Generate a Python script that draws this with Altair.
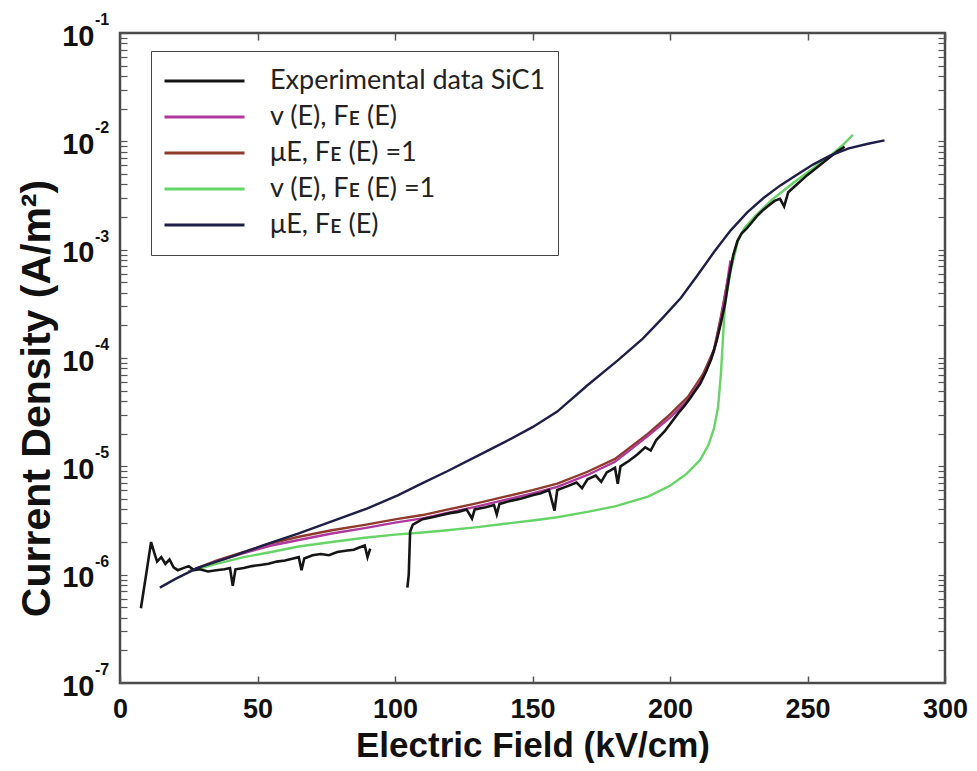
import altair as alt
import pandas as pd

# ---------------- data ----------------
series_names = [
    "Experimental data SiC1",
    "v (E), Fᴇ (E)",
    "μE, Fᴇ (E) =1",
    "v (E), Fᴇ (E) =1",
    "μE, Fᴇ (E)",
]
series_colors = ["#151515", "#b0389c", "#8e3b2c", "#66d466", "#1e1e46"]

# experimental data, first stretch
exp1_E = [7.6, 9.5, 11.3, 12.5, 13.5, 15, 16.5, 18, 19.5, 21, 23, 25, 27, 29, 32, 35, 38, 40, 41, 42,
          45, 48, 51, 54, 57, 60, 63, 65, 66, 67, 70, 73, 76, 79, 82, 85, 87, 89, 90, 91]
exp1_J = [4.9e-7, 1.0e-6, 2.0e-6, 1.58e-6, 1.32e-6, 1.45e-6, 1.26e-6, 1.38e-6, 1.17e-6, 1.10e-6,
          1.15e-6, 1.20e-6, 1.10e-6, 1.12e-6, 1.07e-6, 1.10e-6, 1.12e-6, 1.15e-6, 7.9e-7, 1.12e-6,
          1.15e-6, 1.20e-6, 1.23e-6, 1.26e-6, 1.32e-6, 1.35e-6, 1.41e-6, 1.45e-6, 1.10e-6, 1.41e-6,
          1.51e-6, 1.55e-6, 1.51e-6, 1.62e-6, 1.66e-6, 1.70e-6, 1.78e-6, 1.86e-6, 1.45e-6, 1.74e-6]
# experimental data, second stretch
exp2_E = [104.5, 105, 105.5, 106.5, 110, 114, 117, 120, 123, 126, 128, 129, 133, 136, 137, 138, 142,
          146, 150, 153, 156, 158, 159, 163, 166, 168, 170, 173, 175, 177, 180, 181, 182, 185, 188,
          191, 193, 195, 198, 200, 203, 205, 207, 209, 211, 213, 215, 217, 218.5, 220, 221.5, 223,
          224.5, 226, 228, 230, 232, 234, 236, 238, 240, 241.5, 243, 246, 250, 254, 258, 261, 263.5]
exp2_J = [7.6e-7, 1.0e-6, 2.5e-6, 2.9e-6, 3.25e-6, 3.4e-6, 3.55e-6, 3.7e-6, 3.8e-6, 4.0e-6,
          3.3e-6, 4.0e-6, 4.2e-6, 4.4e-6, 3.6e-6, 4.5e-6, 4.8e-6, 5.05e-6, 5.4e-6, 5.65e-6,
          6.05e-6, 3.9e-6, 6.05e-6, 6.6e-6, 7.1e-6, 6.3e-6, 7.6e-6, 8.2e-6, 7.2e-6, 8.8e-6,
          9.7e-6, 6.9e-6, 1.0e-5, 1.12e-5, 1.28e-5, 1.5e-5, 1.4e-5, 1.75e-5, 2.1e-5, 2.45e-5,
          3.1e-5, 3.55e-5, 4.15e-5, 4.9e-5, 5.8e-5, 7.4e-5, 9.8e-5, 1.45e-4, 2.1e-4, 3.16e-4,
          5.62e-4, 8.91e-4, 1.20e-3, 1.41e-3, 1.58e-3, 1.82e-3, 2.09e-3, 2.34e-3, 2.57e-3, 2.82e-3,
          2.95e-3, 2.51e-3, 3.39e-3, 3.98e-3, 4.90e-3, 5.89e-3, 7.08e-3, 8.13e-3, 8.91e-3]

# v(E), F_E(E)
vfe_E = [25, 35, 45, 55, 65, 77, 89, 100, 110, 119, 130, 140, 150, 159, 170, 180, 192, 200, 206.5,
         212, 216, 218.5, 220.5, 222]
vfe_J = [1.07e-6, 1.32e-6, 1.585e-6, 1.86e-6, 2.09e-6, 2.40e-6, 2.69e-6, 3.02e-6, 3.31e-6, 3.72e-6,
         4.27e-6, 4.90e-6, 5.62e-6, 6.46e-6, 8.32e-6, 1.10e-5, 1.91e-5, 2.82e-5, 4.07e-5, 6.61e-5,
         1.15e-4, 2.24e-4, 4.47e-4, 7.94e-4]

# muE, F_E(E)=1
mufe1_E = [25, 35, 45, 55, 65, 77, 89, 100, 110, 119, 130, 140, 150, 159, 170, 180, 192, 200, 206.5,
           212, 216, 218.5, 220.5, 222]
mufe1_J = [1.07e-6, 1.35e-6, 1.62e-6, 1.95e-6, 2.24e-6, 2.57e-6, 2.88e-6, 3.24e-6, 3.55e-6, 3.98e-6,
           4.57e-6, 5.25e-6, 6.03e-6, 6.92e-6, 8.91e-6, 1.17e-5, 2.0e-5, 3.02e-5, 4.37e-5, 7.08e-5,
           1.20e-4, 2.40e-4, 4.47e-4, 7.08e-4]

# v(E), F_E(E)=1
vfe1_E = [25, 35, 45, 55, 65, 77, 89, 100, 110, 119, 130, 140, 150, 159, 170, 180, 192, 200, 206,
          211, 214, 216, 217.5, 218.5, 219.3, 220, 222, 224.7, 227, 231, 237, 245, 252, 258, 263, 266.5]
vfe1_J = [1.07e-6, 1.26e-6, 1.45e-6, 1.62e-6, 1.82e-6, 2.0e-6, 2.19e-6, 2.34e-6, 2.45e-6, 2.57e-6,
          2.75e-6, 2.95e-6, 3.16e-6, 3.39e-6, 3.80e-6, 4.27e-6, 5.25e-6, 6.61e-6, 8.51e-6, 1.15e-5,
          1.58e-5, 2.24e-5, 3.55e-5, 7.08e-5, 1.58e-4, 3.16e-4, 6.31e-4, 1.20e-3, 1.58e-3, 2.04e-3,
          2.88e-3, 4.17e-3, 5.62e-3, 7.24e-3, 9.33e-3, 1.15e-2]

# muE, F_E(E)
mufe_E = [14.5, 20, 28, 40, 52, 65, 77, 90, 101, 110, 119, 130, 140, 150, 159, 170, 181, 190, 197,
          204, 210, 216, 222, 228, 234, 240, 246, 252, 258, 265, 272, 278]
mufe_J = [7.6e-7, 9.1e-7, 1.15e-6, 1.45e-6, 1.86e-6, 2.4e-6, 3.1e-6, 4.1e-6, 5.4e-6, 7.0e-6,
          9.0e-6, 1.25e-5, 1.68e-5, 2.30e-5, 3.2e-5, 5.6e-5, 9.5e-5, 1.5e-4, 2.3e-4, 3.6e-4,
          5.8e-4, 9.5e-4, 1.5e-3, 2.2e-3, 3.0e-3, 3.9e-3, 4.9e-3, 6.1e-3, 7.35e-3, 8.6e-3,
          9.5e-3, 1.02e-2]

x_tick_values = [0, 50, 100, 150, 200, 250, 300]
decade_values = [1e-1, 1e-2, 1e-3, 1e-4, 1e-5, 1e-6, 1e-7]
exponent_labels = ["-1", "-2", "-3", "-4", "-5", "-6", "-7"]
mantissas = [1, 2, 3, 4, 5, 6, 7, 8, 9]
y_tick_values = [m * d for d in decade_values[1:] for m in mantissas] + [1e-1]

# ---------------- tables ----------------
rows = []
def add(name, seg, xs, ys):
    for i, (x, y) in enumerate(zip(xs, ys)):
        rows.append({"E": x, "J": y, "series": name, "seg": seg, "idx": i})

add(series_names[0], "a", exp1_E, exp1_J)
add(series_names[0], "b", exp2_E, exp2_J)
add(series_names[1], "a", vfe_E, vfe_J)
add(series_names[2], "a", mufe1_E, mufe1_J)
add(series_names[3], "a", vfe1_E, vfe1_J)
add(series_names[4], "a", mufe_E, mufe_J)
df = pd.DataFrame(rows)

exp_df = pd.DataFrame({"J": decade_values, "lab": exponent_labels})

# ---------------- chart ----------------
FONT = "Liberation Sans"
x_scale = alt.Scale(domain=[0, 300], nice=False, zero=False)
y_scale = alt.Scale(type="log", domain=[1e-7, 1e-1], nice=False)
color_scale = alt.Scale(domain=series_names, range=series_colors)

legend = alt.Legend(
    orient="none", legendX=31, legendY=18, title=None,
    symbolType="stroke", symbolSize=6400, symbolStrokeWidth=3,
    clipHeight=36, rowPadding=0, padding=12,
    labelFont="Lato", labelFontSize=27, labelColor="#222", labelOffset=24, labelLimit=500,
    strokeColor="#444", fillColor="white",
)

x_axis = alt.Axis(
    orient="bottom", values=x_tick_values, offset=-7, tickSize=7, domain=False, grid=False,
    tickColor="#555", tickWidth=1.5,
    labelFont=FONT, labelFontSize=27, labelFontWeight="bold", labelColor="#111", labelPadding=13,
    labelFlush=False,
    title="Electric Field (kV/cm)", titleFont=FONT, titleFontSize=35, titleFontWeight="bold",
    titleColor="#111", titleX=412.5, titleY=69, titleBaseline="middle", titleAnchor="middle",
)
y_axis = alt.Axis(
    orient="left", values=y_tick_values, offset=-7, tickSize=7, domain=False, grid=False,
    tickColor="#555", tickWidth=1.2,
    labelExpr="abs(log(datum.value)/LN10 - round(log(datum.value)/LN10)) < 1e-6 ? '10' : ''",
    labelFont=FONT, labelFontSize=29, labelFontWeight="bold", labelColor="#111", labelPadding=26,
    labelOffset=3, labelFlush=False,
    title="Current Density (A/m²)", titleFont=FONT, titleFontSize=41, titleFontWeight="bold",
    titleColor="#111", titleX=-90, titleY=365, titleAngle=270, titleBaseline="middle",
    titleAlign="center",
)

order = [2, 1, 3, 0, 4]  # drawing order
layers = []
for k in order:
    name = series_names[k]
    sw = 2.6 if k == 0 else 2.4
    layers.append(
        alt.Chart(df)
        .transform_filter(alt.datum.series == name)
        .mark_line(strokeWidth=sw)
        .encode(
            x=alt.X("E:Q", scale=x_scale, axis=x_axis),
            y=alt.Y("J:Q", scale=y_scale, axis=y_axis),
            color=alt.Color("series:N", scale=color_scale, legend=legend),
            detail="seg:N",
            order="idx:Q",
        )
    )

lines = alt.layer(*layers)

expo = alt.Chart(exp_df).mark_text(
    align="left", baseline="middle", dx=-25, dy=-13, fontSize=16, fontWeight="bold",
    font=FONT, color="#111",
).encode(
    x=alt.XDatum(0, scale=x_scale, axis=None),
    y=alt.Y("J:Q", scale=y_scale, axis=None),
    text="lab:N",
)

mirror = alt.Chart(df).mark_line(opacity=0).encode(
    x=alt.X("E:Q", scale=x_scale, axis=alt.Axis(
        orient="top", values=x_tick_values, offset=-7, tickSize=7, domain=False, labels=False,
        grid=False, title=None, tickColor="#555", tickWidth=1.5)),
    y=alt.Y("J:Q", scale=y_scale, axis=alt.Axis(
        orient="right", values=y_tick_values, offset=-7, tickSize=7, domain=False, labels=False,
        grid=False, title=None, tickColor="#555", tickWidth=1.2)),
    detail="series:N",
)

chart = (
    alt.layer(lines, expo, mirror)
    .resolve_axis(x="independent", y="independent")
    .properties(
        width=825, height=650,
        autosize=alt.AutoSizeParams(type="none"),
        padding={"left": 112, "top": 25, "right": 24, "bottom": 80},
        background="white",
    )
    .configure_view(stroke="#4a4a4a", strokeWidth=2.5)
)

chart.save("out.html", embed_options={"renderer": "svg", "actions": False})
